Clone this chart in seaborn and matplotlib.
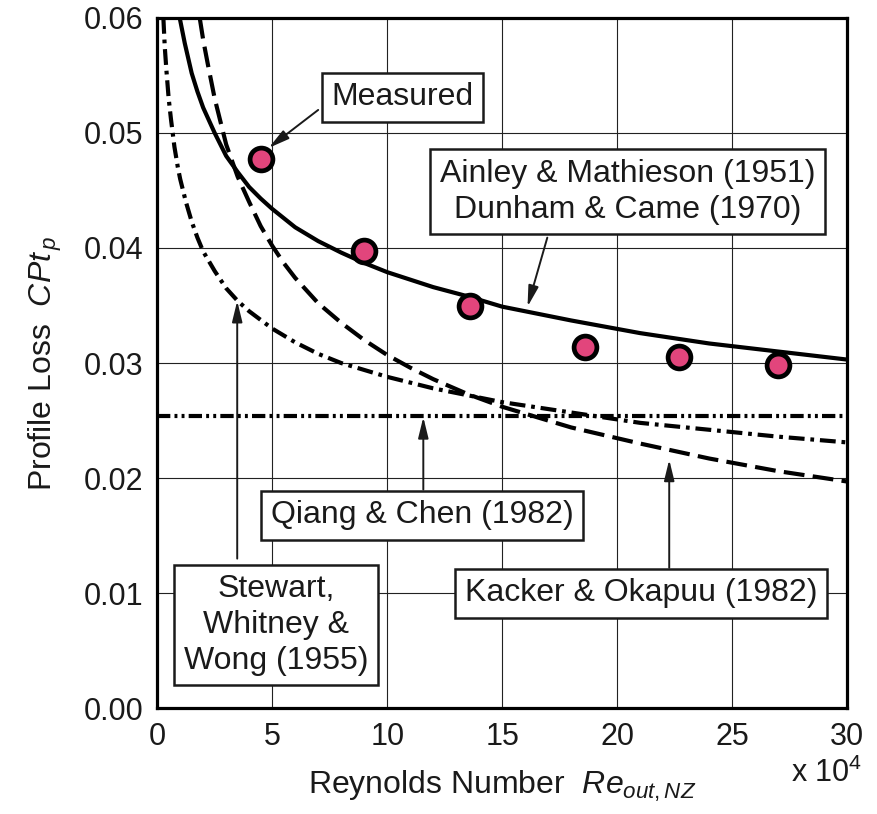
import matplotlib
matplotlib.use("Agg")
import matplotlib.pyplot as plt
import seaborn as sns
import pandas as pd

# ---- data, x in units of 1e4 ----
meas_x = [4.5, 9.0, 13.6, 18.6, 22.7, 27.0]
meas_y = [0.0477, 0.0397, 0.0350, 0.0314, 0.0305, 0.0298]

ainley_x = [0.98, 1.2, 1.5, 1.75, 2.0, 2.5, 3.0, 3.5, 4.0, 4.5, 5.0, 6.0, 7.0, 8.0, 9.0, 10.0, 12.0,
            13.5, 15.0, 18.0, 21.0, 24.0, 27.0, 30.0]
ainley_y = [0.0600, 0.0578, 0.0552, 0.0536, 0.0522, 0.0500, 0.0480, 0.0466, 0.0453, 0.0443, 0.0434,
            0.0418, 0.0406, 0.0396, 0.0387, 0.0379, 0.0366, 0.0358, 0.0349, 0.0337, 0.0326, 0.0317,
            0.0310, 0.0303]

kacker_x = [1.85, 2.0, 2.2, 2.5, 2.75, 3.0, 3.5, 4.0, 4.5, 5.0, 5.5, 6.0, 7.0, 8.0, 9.0, 10.0, 11.0,
            12.0, 13.5, 15.0, 18.0, 21.0, 24.0, 27.0, 30.0]
kacker_y = [0.0600, 0.0581, 0.0560, 0.0530, 0.0510, 0.0490, 0.0462, 0.0440, 0.0419, 0.0402, 0.0387,
            0.0374, 0.0352, 0.0335, 0.0320, 0.0307, 0.0296, 0.0286, 0.0273, 0.0262, 0.0244, 0.0230,
            0.0217, 0.0206, 0.0197]

stewart_x = [0.27, 0.33, 0.4, 0.5, 0.6, 0.75, 0.9, 1.0, 1.25, 1.5, 1.75, 2.0, 2.5, 3.0, 3.5, 4.0,
             5.0, 6.0, 7.0, 8.0, 9.0, 10.0, 12.0, 15.0, 18.0, 21.0, 24.0, 27.0, 30.0]
stewart_y = [0.0600, 0.0575, 0.0555, 0.0530, 0.0512, 0.0488, 0.0470, 0.0460, 0.0440, 0.0423, 0.0409,
             0.0397, 0.0380, 0.0365, 0.0354, 0.0345, 0.0330, 0.0318, 0.0308, 0.0300, 0.0294, 0.0288,
             0.0278, 0.0266, 0.0257, 0.0248, 0.0242, 0.0236, 0.0231]

qiang_x = [0.0, 30.0]
qiang_y = [0.0254, 0.0254]

x_ticks = [0, 5, 10, 15, 20, 25, 30]
y_ticks = [0.00, 0.01, 0.02, 0.03, 0.04, 0.05, 0.06]

# ---- style ----
sns.set_theme(style="white")
plt.rcParams["font.family"] = ["Liberation Sans", "DejaVu Sans"]
plt.rcParams["mathtext.fontset"] = "custom"
plt.rcParams["mathtext.rm"] = "Liberation Sans"
plt.rcParams["mathtext.it"] = "Liberation Sans:italic"
plt.rcParams["mathtext.bf"] = "Liberation Sans:bold"

fig = plt.figure(figsize=(8.78, 8.14), dpi=100)
ax = fig.add_axes([0.179, 0.130, 0.786, 0.848])

LW = 3.0
df_a = pd.DataFrame({"x": ainley_x, "y": ainley_y})
df_k = pd.DataFrame({"x": kacker_x, "y": kacker_y})
df_s = pd.DataFrame({"x": stewart_x, "y": stewart_y})
df_q = pd.DataFrame({"x": qiang_x, "y": qiang_y})
df_m = pd.DataFrame({"x": meas_x, "y": meas_y})

sns.lineplot(data=df_a, x="x", y="y", ax=ax, color="black", linewidth=LW,
             estimator=None, sort=False, zorder=4)
sns.lineplot(data=df_k, x="x", y="y", ax=ax, color="black", linewidth=LW,
             estimator=None, sort=False, linestyle=(0, (5.0, 2.0)), zorder=4)
sns.lineplot(data=df_s, x="x", y="y", ax=ax, color="black", linewidth=LW,
             estimator=None, sort=False, linestyle=(0, (3.8, 1.4, 0.9, 1.4)), zorder=4)
sns.lineplot(data=df_q, x="x", y="y", ax=ax, color="black", linewidth=LW,
             estimator=None, sort=False,
             linestyle=(0, (3.2, 1.0, 0.7, 1.0, 0.7, 1.0)), zorder=4)
sns.scatterplot(data=df_m, x="x", y="y", ax=ax, s=270, color="#e2457c",
                edgecolor="black", linewidth=3.4, zorder=6)

ax.set_xlim(0, 30)
ax.set_ylim(0, 0.06)
ax.set_xticks(x_ticks)
ax.set_yticks(y_ticks)
ax.set_xticklabels([str(t) for t in x_ticks])
ax.set_yticklabels([f"{t:.2f}" for t in y_ticks])
ax.tick_params(axis="both", labelsize=22, length=0, pad=10, colors="#1a1a1a")
ax.grid(True, color="#222222", linewidth=0.8)
for sp in ax.spines.values():
    sp.set_visible(True)
    sp.set_color("black")
    sp.set_linewidth(2.3)
    sp.set_zorder(10)

ax.set_xlabel(r"Reynolds Number  $Re_{out,NZ}$", fontsize=23, labelpad=12, color="#1a1a1a")
ax.set_ylabel(r"Profile Loss  $CPt_{\,p}$", fontsize=23, labelpad=14, color="#1a1a1a")
ax.text(29.1, -0.0043, r"x 10$^4$", fontsize=22, ha="center", va="top", color="#1a1a1a",
        transform=ax.transData, clip_on=False)

box = dict(boxstyle="square,pad=0.3", facecolor="white", edgecolor="#1a1a1a", linewidth=1.8)
arrow = dict(arrowstyle="-|>,head_length=0.9,head_width=0.22", color="#1a1a1a",
             lw=1.4, mutation_scale=14, shrinkA=0, shrinkB=0)

def label(txt, x, y, start, tip):
    ax.annotate("", xy=tip, xytext=start, arrowprops=arrow, zorder=7)
    ax.text(x, y, txt, fontsize=23, ha="center", va="center", bbox=box, zorder=8,
            color="#1a1a1a", linespacing=1.25)

label("Measured", 10.65, 0.0531, (7.0, 0.0520), (4.85, 0.0487))
label("Ainley & Mathieson (1951)\nDunham & Came (1970)", 20.45, 0.0449,
      (16.96, 0.0409), (16.1, 0.0349))
label("Qiang & Chen (1982)", 11.52, 0.01678, (11.57, 0.0190), (11.57, 0.0253))
label("Stewart,\nWhitney &\nWong (1955)", 5.17, 0.00722, (3.48, 0.0130), (3.48, 0.0354))
label("Kacker & Okapuu (1982)", 21.04, 0.0100, (22.26, 0.0122), (22.26, 0.0216))

fig.savefig("out.png", dpi=100, facecolor="white")
